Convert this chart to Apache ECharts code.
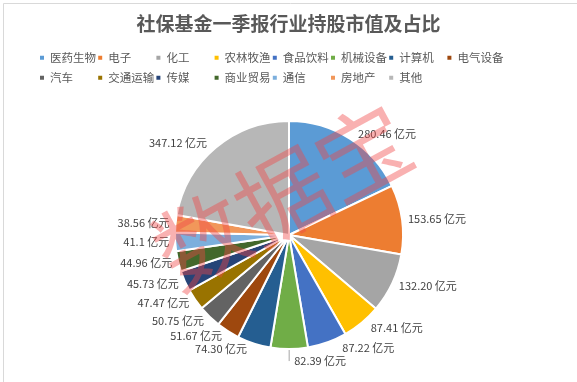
<!DOCTYPE html>
<html><head><meta charset="utf-8">
<script src="https://cdn.jsdelivr.net/npm/echarts@6/dist/echarts.min.js"></script>
<style>html,body{margin:0;padding:0;background:#fff}#c{width:577px;height:382px}</style>
</head><body><div id="c"></div>
<script>
var categories = ['医药生物','电子','化工','农林牧渔','食品饮料','机械设备','计算机','电气设备','汽车','交通运输','传媒','商业贸易','通信','房地产','其他'];
var values = [280.46,153.65,132.20,87.41,87.22,82.39,74.30,51.67,50.75,47.47,45.73,44.96,41.1,38.56,347.12];
var valueLabels = ['280.46','153.65','132.20','87.41','87.22','82.39','74.30','51.67','50.75','47.47','45.73','44.96','41.1','38.56','347.12'];
var colors = ['#5B9BD5','#ED7D31','#A5A5A5','#FFC000','#4472C4','#70AD47','#255E91','#9E480E','#636363','#997300','#264478','#43682B','#7CAFDD','#F1975A','#B7B7B7'];
var font = '"Microsoft YaHei","Noto Sans CJK SC",sans-serif';
var chart = echarts.init(document.getElementById('c'));
var data = categories.map(function(n,i){
  return {name:n, value:values[i], itemStyle:{color:colors[i]}, labelLine:{show: n==='机械设备'}};
});
var legends = categories.map(function(n,i){
  return {left:33 + (i%8)*58.2, top:47 + Math.floor(i/8)*20, itemWidth:6, itemHeight:6, itemGap:0, icon:'rect',
    data:[n], textStyle:{fontFamily:font, fontSize:11.5, color:'#595959'}};
});
chart.setOption({
  animation:false,
  backgroundColor:'#fff',
  title:{text:'社保基金一季报行业持股市值及占比', left:'center', top:9,
    textStyle:{fontFamily:font, fontSize:19, fontWeight:'bold', color:'#595959'}},
  legend:legends,
  graphic:[
    {type:'rect', left:1, top:1, z:-1, shape:{width:574, height:379}, style:{fill:'none', stroke:'#d9d9d9', lineWidth:1}},
    {type:'text', x:282, y:196, rotation:0.5, z:100,
    style:{text:'数据宝', font:'normal 92px "Noto Sans CJK SC"', fill:'rgba(240,70,70,0.42)', textAlign:'center', textVerticalAlign:'middle'}}],
  series:[{type:'pie', center:[289,235], radius:114, startAngle:90, clockwise:true,
    data:data,
    itemStyle:{borderColor:'#fff', borderWidth:2},
    label:{show:true, position:'outside', fontFamily:font, fontSize:11, color:'#404040',
      formatter:function(p){return valueLabels[p.dataIndex]+' 亿元';}},
    labelLine:{length:6, length2:0, lineStyle:{color:'#a6a6a6'}}
  }]
});
</script></body></html>
